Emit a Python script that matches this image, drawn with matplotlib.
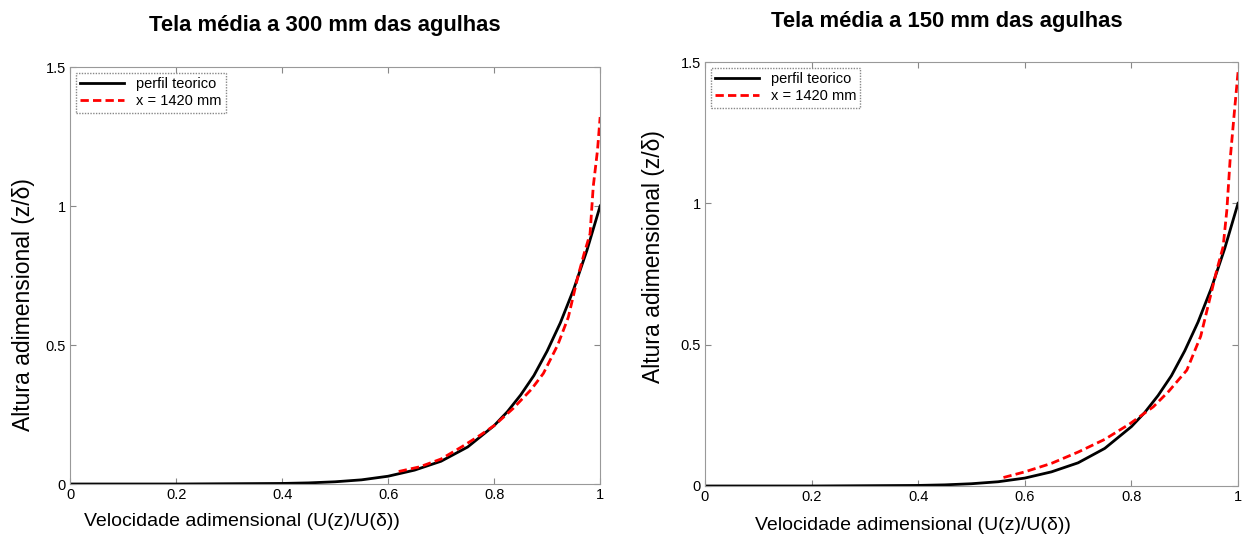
import matplotlib
matplotlib.use("Agg")
import matplotlib.pyplot as plt

plt.rcParams['font.family'] = ['Liberation Sans', 'DejaVu Sans']

# perfil teorico
teo_u = [0.0, 0.1, 0.2, 0.3, 0.4, 0.45, 0.5, 0.55, 0.6, 0.65, 0.7, 0.75, 0.8, 0.825, 0.85, 0.875, 0.9,
         0.925, 0.95, 0.975, 1.0]
teo_z = [0.0, 0.0, 0.0, 0.001, 0.002, 0.004, 0.008, 0.015, 0.028, 0.05, 0.082, 0.133, 0.21, 0.26, 0.32,
         0.39, 0.478, 0.58, 0.70, 0.84, 1.0]

# tela a 300 mm, x = 1420 mm
u300 = [0.62, 0.66, 0.70, 0.74, 0.774, 0.80, 0.836, 0.87, 0.893, 0.92, 0.94, 0.958, 0.97, 0.981, 0.987, 0.995, 1.0]
z300 = [0.045, 0.062, 0.09, 0.135, 0.176, 0.21, 0.272, 0.34, 0.398, 0.50, 0.60, 0.746, 0.83, 0.90, 1.07, 1.20, 1.32]

# tela a 150 mm, x = 1420 mm
u150 = [0.56, 0.60, 0.65, 0.70, 0.75, 0.797, 0.841, 0.87, 0.904, 0.93, 0.96, 0.972, 0.979, 0.985, 0.993, 1.0]
z150 = [0.03, 0.05, 0.08, 0.12, 0.165, 0.22, 0.28, 0.335, 0.41, 0.53, 0.763, 0.846, 0.975, 1.15, 1.32, 1.464]

titulos = ["Tela média a 300 mm das agulhas", "Tela média a 150 mm das agulhas"]

fig = plt.figure(figsize=(12.42, 5.36), dpi=100)
ax1 = fig.add_axes([0.0564, 0.097, 0.4268, 0.778])
ax2 = fig.add_axes([0.5676, 0.0933, 0.4292, 0.791])

dados = [(ax1, u300, z300, (0.325, -0.07), (-0.066, 0.43), (325, 25)),
         (ax2, u150, z150, (0.39, -0.072), (-0.075, 0.54), (947, 22))]

for i, (ax, u, z, xl, yl, tp) in enumerate(dados):
    ax.plot(teo_u, teo_z, color='black', lw=2, label='perfil teorico')
    ax.plot(u, z, color='red', lw=2, ls=(0, (3, 1.5)), label='x = 1420 mm')
    ax.set_xlim(0, 1)
    ax.set_ylim(0, 1.5)
    ax.set_xticks([0, 0.2, 0.4, 0.6, 0.8, 1])
    ax.set_xticklabels(['0', '0.2', '0.4', '0.6', '0.8', '1'])
    ax.set_yticks([0, 0.5, 1, 1.5])
    ax.set_yticklabels(['0', '0.5', '1', '1.5'])
    ax.tick_params(direction='in', top=True, right=True, length=4, color='#888888',
                   labelsize=10.5, pad=3)
    for s in ax.spines.values():
        s.set_color('#999999')
        s.set_linestyle((0, (1, 1)))
    fig.text(tp[0] / 1242, 1 - tp[1] / 536, titulos[i], fontsize=15.8, fontweight='bold',
             ha='center', va='center')
    ax.set_xlabel('Velocidade adimensional (U(z)/U(δ))', fontsize=14)
    ax.set_ylabel('Altura adimensional (z/δ)', fontsize=16.5)
    ax.xaxis.set_label_coords(*xl)
    ax.yaxis.set_label_coords(*yl)
    leg = ax.legend(loc='upper left', fontsize=10.5, fancybox=False, framealpha=1,
                    borderaxespad=0.4, handlelength=3, borderpad=0.3, labelspacing=0.2)
    leg.get_frame().set_edgecolor('#888888')
    leg.get_frame().set_linestyle((0, (1, 1)))

fig.savefig('out.png', dpi=100)
